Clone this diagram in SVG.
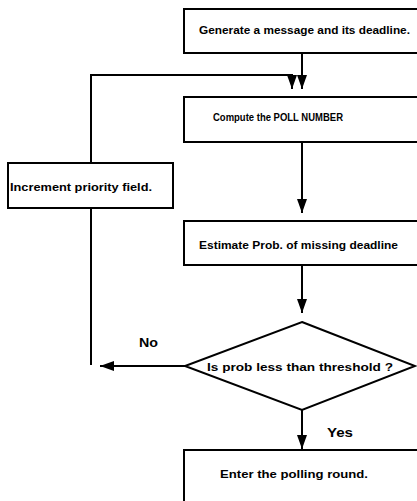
<svg xmlns="http://www.w3.org/2000/svg" width="417" height="501" viewBox="0 0 417 501">
<defs>
<style>
.box{fill:#fff;stroke:#000;stroke-width:2}
.ln{fill:none;stroke:#000;stroke-width:2}
.t{font-family:"Liberation Sans",Arial,sans-serif;font-weight:bold;font-size:10px;fill:#000}
.lb{font-family:"Liberation Sans",Arial,sans-serif;font-weight:bold;font-size:13px;fill:#000}
</style>
<marker id="ah" viewBox="0 0 14 10" refX="14" refY="5" markerWidth="14" markerHeight="10" markerUnits="userSpaceOnUse" orient="auto">
<path d="M0,0 L14,5 L0,10 z" fill="#000"/>
</marker>
</defs>
<rect width="417" height="501" fill="#fff"/>
<g id="connectors">
<path class="ln" d="M302,53 V89" marker-end="url(#ah)"/>
<path class="ln" d="M91,163 V75 H292 V89" marker-end="url(#ah)"/>
<path class="ln" d="M91,208 V365"/>
<path class="ln" d="M302,142 V213" marker-end="url(#ah)"/>
<path class="ln" d="M302,265 V313" marker-end="url(#ah)"/>
<path class="ln" d="M185,366 H100" marker-end="url(#ah)"/>
<path class="ln" d="M302,410 V449" marker-end="url(#ah)"/>
<text class="lb" x="139" y="347" textLength="19" lengthAdjust="spacingAndGlyphs">No</text>
<text class="lb" x="327" y="437" textLength="26" lengthAdjust="spacingAndGlyphs">Yes</text>
</g>
<g id="generate">
<rect class="box" x="184" y="9" width="240" height="44"/>
<text class="t" x="199" y="34" textLength="211" lengthAdjust="spacingAndGlyphs">Generate a message and its deadline.</text>
</g>
<g id="compute">
<rect class="box" x="184" y="97" width="240" height="45"/>
<text class="t" x="213" y="121" textLength="130" lengthAdjust="spacingAndGlyphs">Compute the POLL NUMBER</text>
</g>
<g id="increment">
<rect class="box" x="8" y="163" width="165" height="45"/>
<text class="t" x="10" y="191" textLength="142" lengthAdjust="spacingAndGlyphs">Increment priority field.</text>
</g>
<g id="estimate">
<rect class="box" x="184" y="221" width="240" height="44"/>
<text class="t" x="199" y="249" textLength="199" lengthAdjust="spacingAndGlyphs">Estimate Prob. of missing deadline</text>
</g>
<g id="decision">
<polygon class="box" points="302,322 415,366 302,410 185,366"/>
<text class="t" x="207" y="371" textLength="186" lengthAdjust="spacingAndGlyphs">Is prob less than threshold ?</text>
</g>
<g id="enter">
<rect class="box" x="184" y="450" width="240" height="60"/>
<text class="t" x="220" y="478" textLength="148" lengthAdjust="spacingAndGlyphs">Enter the polling round.</text>
</g>
</svg>
